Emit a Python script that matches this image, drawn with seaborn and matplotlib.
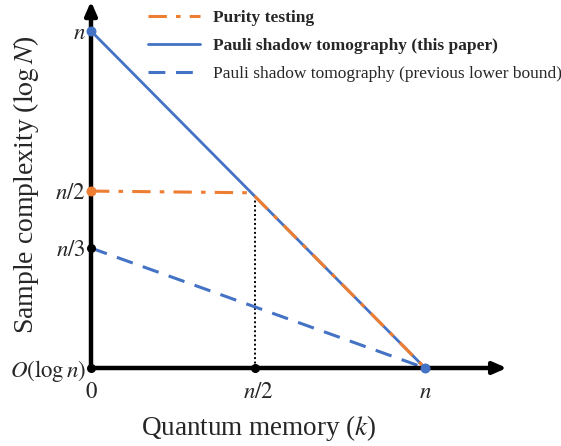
import matplotlib
matplotlib.use("Agg")
import matplotlib.pyplot as plt
import seaborn as sns

sns.set_style("white")
plt.rcParams['font.family'] = ['Liberation Serif', 'DejaVu Serif']
plt.rcParams['mathtext.fontset'] = 'stix'

# Data (memory k and sample complexity, both in units of n)
shadow_k = [0.0, 1.0]
shadow_N = [1.0, 0.0]
purity_k = [0.0, 0.48, 1.0]
purity_N = [0.525, 0.52, 0.0]
prev_k = [0.0, 1.0]
prev_N = [0.356, 0.0]
split_k = 0.49

xtick_vals = [0.0, 0.5, 1.0]
xtick_labels = ['$0$', '$n/2$', '$n$']
ytick_vals = [0.0, 0.356, 0.525, 1.0]
ytick_labels = [r'$O(\log n)$', '$n/3$', '$n/2$', '$n$']

legend_labels = ['Purity testing', 'Pauli shadow tomography (this paper)',
                 'Pauli shadow tomography (previous lower bound)']

ORANGE = '#ED7D31'
BLUE = '#4472C4'

fig = plt.figure(figsize=(5.61, 4.46), dpi=100)
W, H = 561, 446
ax = fig.add_axes([91 / W, (H - 368) / H, 334 / W, 337 / H])
ax.set_xlim(0, 1)
ax.set_ylim(0, 1)
for s in ax.spines.values():
    s.set_visible(False)

# dotted vertical guide
ax.plot([split_k, split_k], [0, 1 - split_k], color='black', lw=1.4,
        linestyle=(0, (1, 1.3)), zorder=2)

sns.lineplot(x=purity_k, y=purity_N, ax=ax, color=ORANGE, lw=2.2,
             label=legend_labels[0], zorder=4)
sns.lineplot(x=shadow_k, y=shadow_N, ax=ax, color=BLUE, lw=2.0,
             label=legend_labels[1], zorder=3)
sns.lineplot(x=prev_k, y=prev_N, ax=ax, color=BLUE, lw=2.2,
             label=legend_labels[2], zorder=3)
lines = ax.get_lines()
lines[1].set_linestyle((0, (6, 3, 1.5, 3)))
lines[1].set_zorder(5)
lines[3].set_linestyle((0, (5.5, 3.5)))

# axes arrows
ax.annotate('', xy=(1.245, 0), xytext=(0, 0), annotation_clip=False,
            arrowprops=dict(arrowstyle='-|>,head_length=0.8,head_width=0.35',
                            color='black', lw=3.2, shrinkA=0, shrinkB=0))
ax.annotate('', xy=(0, 1.088), xytext=(0, 0), annotation_clip=False,
            arrowprops=dict(arrowstyle='-|>,head_length=0.8,head_width=0.35',
                            color='black', lw=3.2, shrinkA=0, shrinkB=0))

# dots
ax.scatter([0, 1], [1, 0], color=BLUE, s=38, zorder=6, clip_on=False)
ax.scatter([0], [purity_N[0]], color=ORANGE, s=38, zorder=6, clip_on=False)
ax.scatter([0, 0, split_k], [0, prev_N[0], 0], color='black', s=30, zorder=6,
           clip_on=False)

ax.set_xticks(xtick_vals)
ax.set_xticklabels(xtick_labels, fontsize=16.5)
ax.set_yticks(ytick_vals)
ax.set_yticklabels(ytick_labels, fontsize=16.5)
ax.tick_params(axis='x', length=0, pad=10)
ax.tick_params(axis='y', length=0, pad=3.5)

ax.set_xlabel('Quantum memory ($k$)', fontsize=19.5, va='center')
ax.xaxis.set_label_coords(0.503, -0.178)
ax.set_ylabel(r'Sample complexity ($\log N$)', fontsize=20, va='center')
ax.yaxis.set_label_coords(-0.195, 0.543)

leg = ax.legend(loc='upper left', bbox_to_anchor=(0.129, 1.105), frameon=False,
                fontsize=12.5, handlelength=3.0, handletextpad=0.75,
                labelspacing=0.7, borderpad=0.3)
for i, t in enumerate(leg.get_texts()):
    if i < 2:
        t.set_fontweight('bold')

fig.savefig('out.png', dpi=100)
